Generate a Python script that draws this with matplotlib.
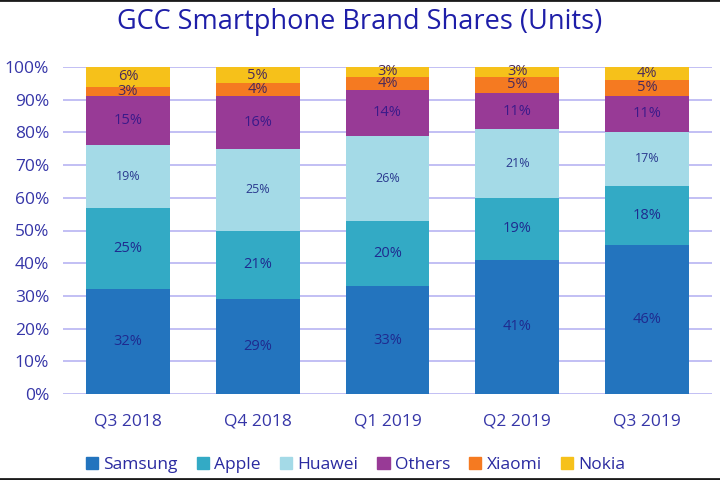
import matplotlib
matplotlib.use("Agg")
import matplotlib.pyplot as plt
from matplotlib.lines import Line2D
import numpy as np

quarters = ["Q3 2018", "Q4 2018", "Q1 2019", "Q2 2019", "Q3 2019"]
brands = ["Samsung", "Apple", "Huawei", "Others", "Xiaomi", "Nokia"]
samsung = [32, 29, 33, 41, 45.6]
apple = [25, 21, 20, 19, 18.0]
huawei = [19, 25, 26, 21, 16.6]
others = [15, 16, 14, 11, 11.0]
xiaomi = [3, 4, 4, 5, 4.9]
nokia = [6, 5, 3, 3, 3.9]
series = [samsung, apple, huawei, others, xiaomi, nokia]
colors = ["#2374BE", "#33AAC5", "#A4DAE7", "#983A96", "#F57A21", "#F6C11A"]
label_colors = ["#1F2A8F", "#1F2A8F", "#2A3A8F", "#3A1A8A", "#4A2A5A", "#4A2A5A"]
label_sizes = [10.5, 10.5, 9, 10.5, 10.5, 10.5]

plt.rcParams['font.family'] = ['Open Sans', 'DejaVu Sans']
fig = plt.figure(figsize=(7.2, 4.8), dpi=100)
ax = fig.add_axes([63/720, 86/480, 649/720, 327/480])

x = np.arange(len(quarters))
bottom = np.zeros(len(quarters))
for vals, c, lc, ls, name in zip(series, colors, label_colors, label_sizes, brands):
    v = np.array(vals, dtype=float)
    ax.bar(x, v, 0.646, bottom=bottom, color=c, label=name, zorder=3)
    for xi, b, h in zip(x, bottom, v):
        ax.text(xi, b + h / 2, f"{h:.0f}%", ha="center", va="center",
                color=lc, fontsize=ls, zorder=4)
    bottom += v

ax.set_xlim(-0.5, len(quarters) - 0.5)
ax.set_ylim(0, 100)
ax.set_yticks(np.arange(0, 101, 10))
ax.set_yticklabels([f"{t}%" for t in range(0, 101, 10)])
ax.set_xticks(x)
ax.set_xticklabels(quarters)
ax.tick_params(axis="both", length=0, labelsize=12.5, colors="#3636A8")
ax.tick_params(axis="x", pad=14)
ax.tick_params(axis="y", pad=10)
ax.yaxis.grid(True, color="#B8B4F2", linewidth=1.2, zorder=0)
for s in ax.spines.values():
    s.set_visible(False)

fig.text(0.5, 0.955, "GCC Smartphone Brand Shares (Units)", ha="center",
         va="center", fontsize=19.5, color="#1E1EA8")

handles = [plt.Rectangle((0, 0), 1, 1, color=c) for c in colors]
leg = fig.legend(handles, brands, loc="center", bbox_to_anchor=(0.494, 0.031),
                 ncol=6, frameon=False, fontsize=12.5, handlelength=0.7,
                 handleheight=0.7, handletextpad=0.3, columnspacing=1.1)
for t in leg.get_texts():
    t.set_color("#2A2AA0")

fig.add_artist(Line2D([0, 1], [0.999, 0.999], color="#1a1a1a", linewidth=2,
                      transform=fig.transFigure))
fig.add_artist(Line2D([0, 1], [0.002, 0.002], color="#1a1a1a", linewidth=2,
                      transform=fig.transFigure))

fig.savefig("out.png", dpi=100)
